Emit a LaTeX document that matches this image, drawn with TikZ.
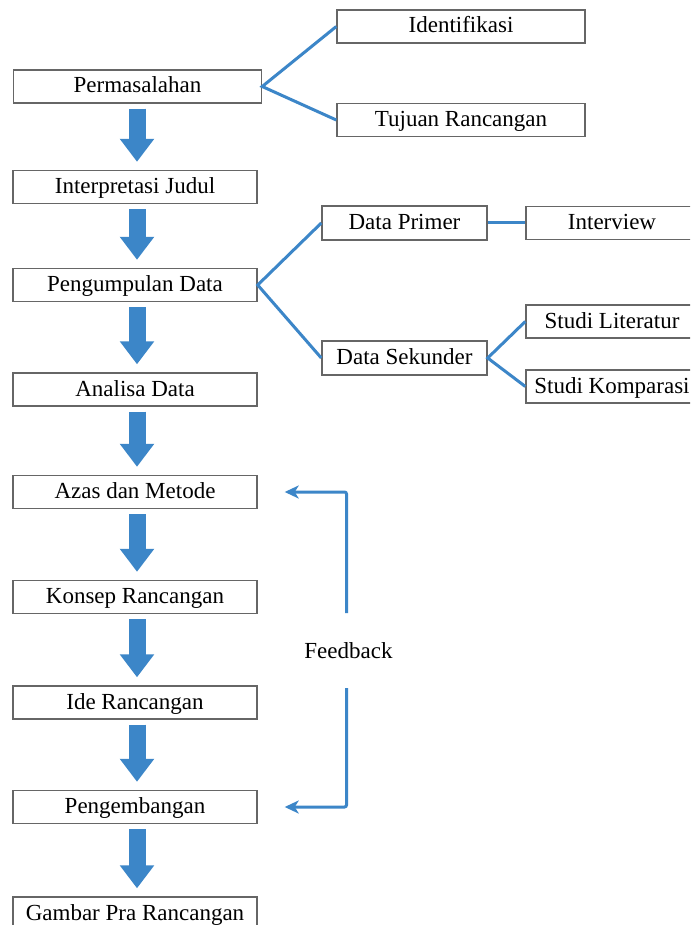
\documentclass[tikz,border=0pt]{standalone}
\usepackage{fontspec}
\setmainfont{Liberation Serif}
\usetikzlibrary{arrows.meta}
\definecolor{fblue}{HTML}{3C86C8}
\definecolor{bgray}{HTML}{666666}
\begin{document}
\begin{tikzpicture}[x=1pt,y=-1pt,
  box/.style={draw=bgray, line width=1.4pt, inner sep=0pt, minimum height=33pt,
    text height=16pt, text depth=3pt, font=\fontsize{23}{27}\selectfont},
  mainbox/.style={box, minimum width=244pt},
  topbox/.style={box, minimum width=248pt},
  midbox/.style={box, minimum width=165pt, minimum height=34pt},
  sidebox/.style={box, minimum width=172pt},
  link/.style={draw=fblue, line width=3pt},
  blk/.style={draw=fblue, line width=17pt,
    -{Triangle[length=23pt 0 1, width=33pt 0 1]}, shorten <=5pt, shorten >=8pt},
  fb/.style={draw=fblue, line width=3pt, rounded corners=2pt,
    -{Stealth[length=14pt 0 1, width=13pt 0 1, inset=4pt]}}
]
\clip (0,0) rectangle (690,925);
\useasboundingbox (0,0) rectangle (690,925);
\fill[white] (0,0) rectangle (690,925);

% main column
\node[topbox]  (perm)   at (137.5,86.5) {Permasalahan};
\node[mainbox] (interp) at (135,187)    {Interpretasi Judul};
\node[mainbox] (kumpul) at (135,285)    {Pengumpulan Data};
\node[mainbox] (anal)   at (135,389.5)  {Analisa Data};
\node[mainbox] (azas)   at (135,492)    {Azas dan Metode};
\node[mainbox] (konsep) at (135,597)    {Konsep Rancangan};
\node[mainbox] (ide)    at (135,702.5)  {Ide Rancangan};
\node[mainbox] (kemb)   at (135,807)    {Pengembangan};
\node[mainbox] (gambar) at (135,913.5)  {Gambar Pra Rancangan};

% top branch
\node[topbox] (ident)  at (461,26.5) {Identifikasi};
\node[topbox] (tujuan) at (461,120)  {Tujuan Rancangan};

% data branch
\node[midbox]  (primer)   at (404.5,223) {Data Primer};
\node[midbox]  (sekunder) at (404.5,358) {Data Sekunder};
\node[sidebox] (inter)    at (612,223)   {Interview};
\node[sidebox] (lit)      at (612,321.5) {Studi Literatur};
\node[sidebox] (komp)     at (612,386.5) {Studi Komparasi};

% connectors
\draw[link] (ident.west) -- (perm.east) -- (tujuan.west);
\draw[link] (primer.west) -- (kumpul.east) -- (sekunder.west);
\draw[link] (primer.east) -- (inter.west);
\draw[link] (lit.west) -- (sekunder.east) -- (komp.west);

% block arrows
\foreach \a/\b in {perm/interp, interp/kumpul, kumpul/anal, anal/azas,
                   azas/konsep, konsep/ide, ide/kemb, kemb/gambar}
  \draw[blk] ([xshift=2pt]\b.north |- \a.south) -- ([xshift=2pt]\b.north);

% feedback
\node[font=\fontsize{23}{27}\selectfont, inner sep=0pt] (fbtext) at (348.5,651) {Feedback};
\coordinate (fbtop) at (346.5,613);
\coordinate (fbbot) at (346.5,688);
\draw[fb] (fbtop) |- ([xshift=27pt]azas.east);
\draw[fb] (fbbot) |- ([xshift=27pt]kemb.east);
\end{tikzpicture}
\end{document}
